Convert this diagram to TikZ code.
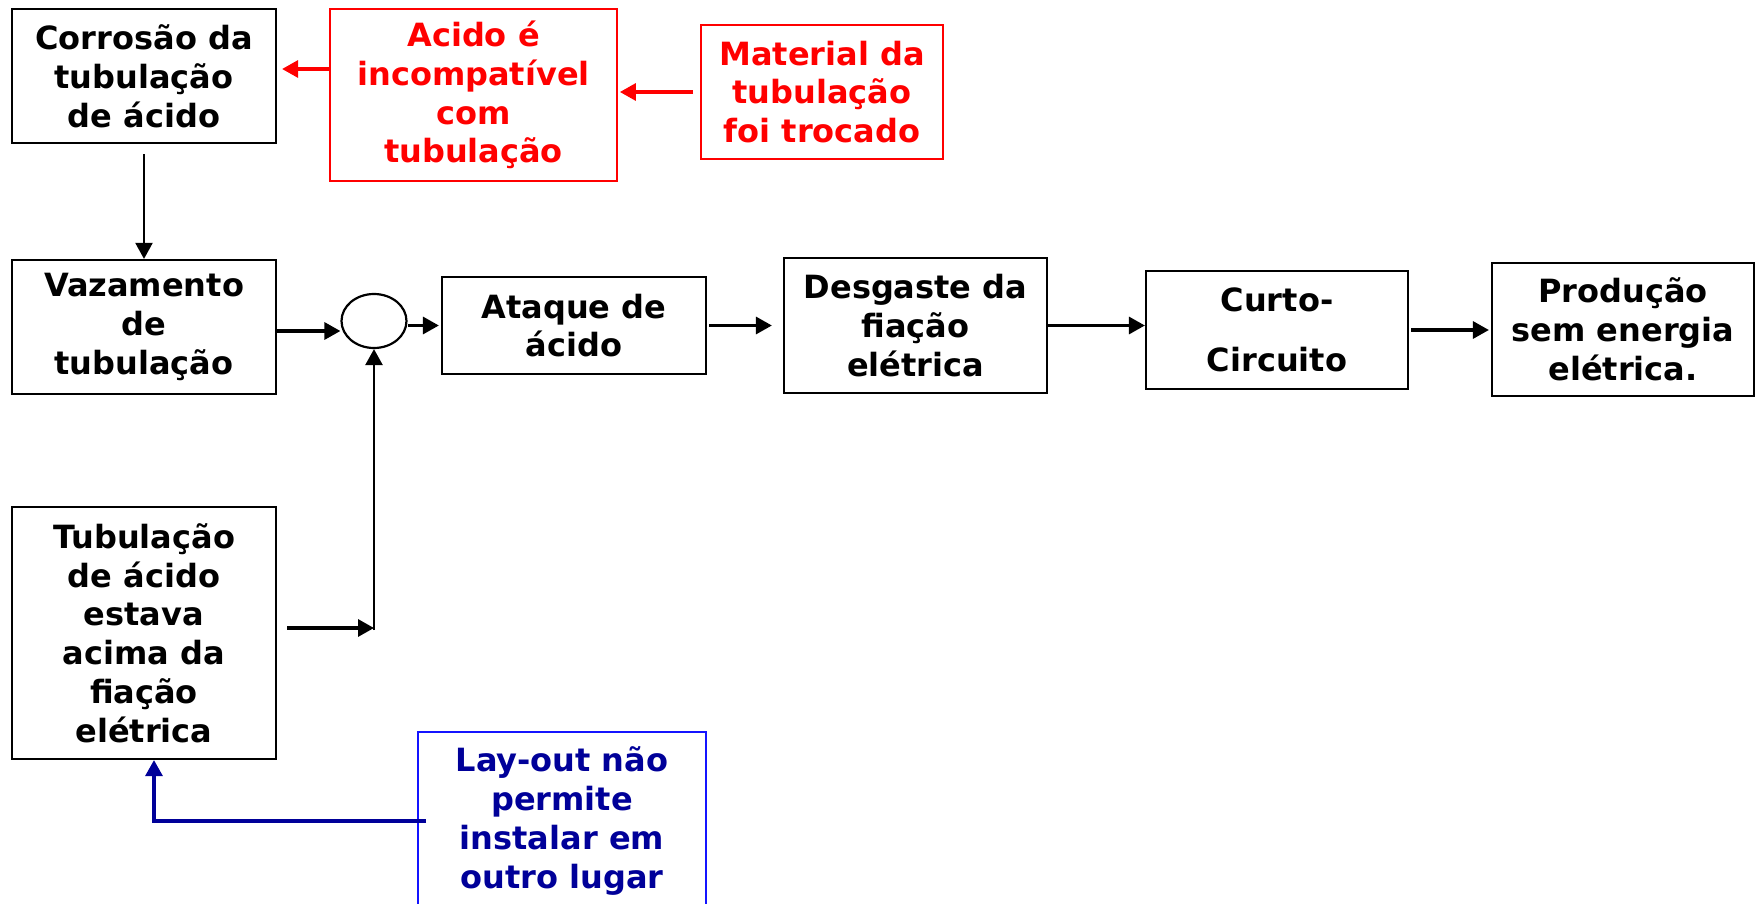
\documentclass[tikz,border=0pt]{standalone}
\usepackage{fontspec}
\setmainfont{DejaVu Sans}
\usepackage{tikz}
\usetikzlibrary{shapes,arrows,arrows.meta,calc}

\definecolor{causered}{RGB}{255,0,0}
\definecolor{layblue}{RGB}{20,20,255}
\definecolor{laynavy}{RGB}{0,0,153}

\tikzset{
  blk/.style={draw,line width=2.2pt,align=center,inner sep=0pt,
              font={\fontsize{32}{38.8}\selectfont\bfseries}},
  redblk/.style={blk,draw=causered,text=causered,line width=1.8pt},
  blueblk/.style={blk,draw=layblue,text=laynavy,line width=1.8pt},
  redarr/.style={causered,line width=3.2pt},
  bluearr/.style={laynavy,line width=3.2pt}
}

\begin{document}
\begin{tikzpicture}[x=1pt,y=-1pt,->,>={Triangle[length=16pt,width=17pt]},line width=3.2pt]
  \useasboundingbox (0,0) rectangle (1756,904);

  % causes
  \node[blk,minimum width=264,minimum height=134] (corr) at (144,76) {Corrosão da\\tubulação\\de ácido};
  \node[redblk,minimum width=287,minimum height=172] (acid) at (473.5,95) {Acido é\\incompatível\\com\\tubulação};
  \node[redblk,minimum width=242,minimum height=134] (mat) at (822,92) {Material da\\tubulação\\foi trocado};
  \node[blk,minimum width=264,minimum height=134] (vaz) at (144,327) {Vazamento\\de\\tubulação};
  \node[blk,minimum width=264,minimum height=252] (tub) at (144,633) {Tubulação\\de ácido\\estava\\acima da\\fiação\\elétrica};
  \node[blueblk,minimum width=288,minimum height=178] (lay) at (562,821) {Lay-out não\\permite\\instalar em\\outro lugar};

  % chain
  \node[draw,ellipse,line width=2.2pt,minimum width=65,minimum height=54,inner sep=0pt] (and) at (374,321) {};
  \node[blk,minimum width=264,minimum height=97] (atq) at (574,325.5) {Ataque de\\ácido};
  \node[blk,minimum width=263,minimum height=135] (desg) at (915.5,325.5) {Desgaste da\\fiação\\elétrica};
  \node[blk,minimum width=262,minimum height=118] (curto) at (1277,330) {Curto-\\[21pt]Circuito};
  \node[blk,minimum width=262,minimum height=133] (prod) at (1623,329.5) {Produção\\sem energia\\elétrica.};

  \coordinate (r1) at ([yshift=26pt]acid.west);
  \coordinate (v1) at ([yshift=-4pt]vaz.east);
  \coordinate (t1) at ([yshift=5pt]tub.east);
  \coordinate (junc) at (t1 -| and.south);
  \coordinate (l1) at ([xshift=10pt]tub.south);

  \begin{scope}
    \path (corr) edge[line width=2.2pt,shorten <=10pt] (vaz)
          (r1)   edge[redarr,shorten >=5pt] (r1 -| corr.east)
          (mat.west) edge[redarr,shorten <=7pt,shorten >=2pt] (mat.west -| acid.east)
          (v1)   edge (v1 -| and.west)
          (and.east |- atq.west) edge[shorten >=2pt] (atq.west)
          (atq.east) edge[shorten <=2pt,shorten >=11pt] (atq.east -| desg.west)
          (desg.east) edge (desg.east -| curto.west)
          (curto.east) edge[shorten <=2pt,shorten >=2pt] (curto.east -| prod.west)
          (t1)   edge[shorten <=10pt] (junc)
          ([yshift=-2pt]junc) edge[line width=2.6pt] (and.south);
    \draw[bluearr,shorten <=-9pt] (lay.west) -| (l1);
  \end{scope}
\end{tikzpicture}
\end{document}
